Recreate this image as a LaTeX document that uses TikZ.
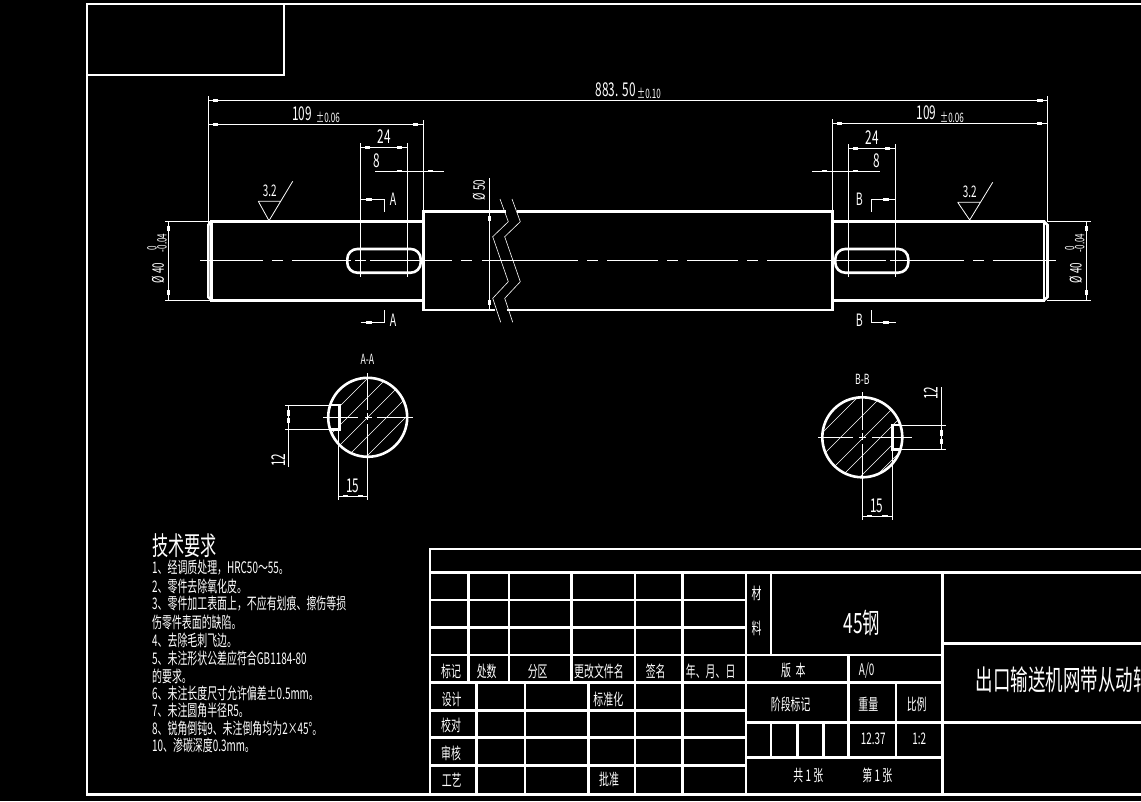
\documentclass[tikz,border=0pt]{standalone}
\usepackage{fontspec}
\usepackage{tikz}
\newfontfamily\cadfont[FakeStretch=0.62]{Noto Sans CJK SC}
\newcommand{\cadsize}[1]{\cadfont\fontsize{#1}{#1}\selectfont}
\tikzset{x=1pt,y=-1pt,
         part/.style={white,line width=2.6pt},
         dimline/.style={white,line width=0.8pt},
         hatchline/.style={white,line width=0.6pt},
         label/.style={text=white,inner sep=0pt,font=\cadsize{19}},
         tol/.style={text=white,inner sep=0pt,font=\cadsize{13}},
         req/.style={text=white,inner sep=0pt,anchor=west,font=\cadsize{16}},
         cell/.style={text=white,inner sep=0pt,font=\cadsize{16}}}
\begin{document}
\begin{tikzpicture}
	  \fill[black] (0,0) rectangle (1141,801);
	  \clip (0,0) rectangle (1141,801);
	  % sheet frame
	  \draw[part] (1141,4) -- (87,4) -- (87,794.5) -- (1141,794.5);
	  \draw[part] (87,75) -- (284,75) -- (284,4);

	  % shaft
	  \draw[part] (423.3,221.3) -- (211.7,221.3) -- (211.7,300.3) -- (423.3,300.3);
	  \draw[part] (211.7,221.3) -- (208.3,225) -- (208.3,297) -- (211.7,300.3);
	  \draw[part] (832.7,221.3) -- (1044,221.3) -- (1044,300.3) -- (832.7,300.3);
	  \draw[part] (1044,221.3) -- (1047.5,225) -- (1047.5,297) -- (1044,300.3);
	  \draw[part] (506,211.7) -- (423.3,211.7) -- (423.3,310) -- (495,310);
	  \draw[part] (516.7,211.7) -- (832.7,211.7) -- (832.7,310) -- (506.7,310);
	  \draw[part,rounded corners=10pt] (347.3,249) rectangle (420.7,272.7);
	  \draw[part,rounded corners=10pt] (835.3,249) rectangle (908.3,272.7);
	  % centre line
	  \foreach \a/\b in {200/263,272/283,292/351,355/366,370/452,461/472,482/578,587/598,607/658,
	      667/678,687/738,747/758,767/886,890/964,973/984,992.7/1056}
	    \draw[dimline] (\a,260.3) -- (\b,260.3);
	  % break lines
	  \foreach \dx in {0,12}
	    \draw[hatchline,xshift=\dx] (500,199) -- (508.3,221.7) -- (492.7,236.7) -- (508.3,281.7)
	      -- (492.7,298.3) -- (500.7,322.3);

	  % dimension lines
	  \draw[dimline] (208.3,96) -- (208.3,223) (1047.7,96) -- (1047.7,222) (208.3,100.3) -- (1047.7,100.3);
	  \draw[dimline] (423.3,120) -- (423.3,211) (208.3,124.3) -- (423.3,124.3);
	  \draw[dimline] (360.3,143) -- (360.3,277) (407.3,143) -- (407.3,277) (360.3,147.3) -- (407.3,147.3);
	  \draw[dimline] (375,171) -- (444,171);
	  \draw[dimline] (832.3,119) -- (832.3,211) (832.3,123.3) -- (1047.7,123.3);
	  \draw[dimline] (848.3,144) -- (848.3,277) (895.3,144) -- (895.3,277) (848.3,148.3) -- (895.3,148.3);
	  \draw[dimline] (812.3,171) -- (879.7,171);
	  \draw[dimline] (489.3,178.3) -- (489.3,310);
	  \draw[dimline] (165,221.3) -- (211,221.3) (165,300.3) -- (211,300.3) (168.3,221.3) -- (168.3,300.3);
	  \draw[dimline] (1047,221.3) -- (1090.7,221.3) (1047,300.3) -- (1090.7,300.3) (1086.3,221.3) -- (1086.3,300.3);
	  % section marks
	  \draw[dimline] (360.7,199.3) -- (384.7,199.3) -- (384.7,211.7);
	  \draw[dimline] (360.7,322.3) -- (384.7,322.3) -- (384.7,310);
	  \draw[dimline] (895.3,199.3) -- (871.7,199.3) -- (871.7,211.7);
	  \draw[dimline] (895.7,322.3) -- (871.7,322.3) -- (871.7,310);
	  % roughness marks
	  \draw[dimline] (258.3,201.3) -- (281,201.3) (258.3,201.3) -- (269,220.7) -- (292.7,181.3);
	  \draw[dimline] (957.7,202.3) -- (980.7,202.3) (957.7,202.3) -- (969.7,220) -- (992.7,182.3);

	  % section A-A
	  \begin{scope}
	    \clip (367.7,417.3) circle (39.5);
	    \foreach \s in {746,765,785,804,823,840}
	      \draw[hatchline] (\s-370,370) -- (\s-465,465);
	    \fill[black] (325,405) rectangle (339.3,429.3);
	  \end{scope}
	  \draw[part] (367.7,417.3) circle (39.5);
	  \draw[part] (331,405) -- (339.3,405) -- (339.3,429.3) -- (331,429.3);
	  \draw[dimline] (323.3,417.3) -- (358,417.3) (365,417.3) -- (372,417.3) (377,417.3) -- (412.7,417.3);
	  \draw[dimline] (367.7,373.3) -- (367.7,410) (367.7,413) -- (367.7,420) (367.7,424) -- (367.7,500);
	  \draw[dimline] (285,405) -- (331,405) (285,429.3) -- (331,429.3) (288.3,405) -- (288.3,467.3);
	  \draw[dimline] (338.3,429.3) -- (338.3,500) (338.3,496) -- (367.7,496);

	  % section B-B
	  \begin{scope}
	    \clip (862.3,437.3) circle (40);
	    \foreach \s in {1255,1278,1301,1318,1337,1352}
	      \draw[hatchline] (\s-390,390) -- (\s-485,485);
	    \fill[black] (892.3,425) rectangle (905,449.3);
	  \end{scope}
	  \draw[part] (862.3,437.3) circle (40);
	  \draw[part] (899.5,425) -- (892.3,425) -- (892.3,449.3) -- (899.5,449.3);
	  \draw[dimline] (818.3,437.3) -- (853,437.3) (859,437.3) -- (866,437.3) (872,437.3) -- (911.7,437.3);
	  \draw[dimline] (862.3,392.3) -- (862.3,430) (862.3,433) -- (862.3,440) (862.3,444) -- (862.3,520);
	  \draw[dimline] (900,425) -- (945.7,425) (900,449.3) -- (945.7,449.3) (941.3,387.3) -- (941.3,449.3);
	  \draw[dimline] (892.3,449.3) -- (892.3,520) (862.3,516) -- (892.3,516);

	  % dimension blocks
	  \foreach \bx/\by in {215.5/100.3,1040/100.3,215.5/124.3,415.5/124.3,367.5/147.3,399.5/147.3,
	      399.5/171,430.5/171,369/199.3,369/322.3,839.5/123.3,1039.5/123.3,855.5/148.3,887.5/148.3,
	      824.5/171,855.5/171,886/199.3,886/322.3,345.5/496,360.5/496,869.5/516,885/516}
	    \fill[white] (\bx-2.7,\by-1.3) rectangle (\bx+2.7,\by+1.3);
	  \foreach \bx/\by in {489.3/218.5,489.3/302.5,168.3/228.5,168.3/292.5,1086.3/228.5,1086.3/292.5,
	      288.3/413,288.3/420.5,941.3/433,941.3/441.5}
	    \fill[white] (\bx-1.3,\by-2.7) rectangle (\bx+1.3,\by+2.7);

	  % dimension texts
	  \node[label,anchor=west] (overall) at (595.7,90) {883.\kern4pt 50};
	  \node[tol,anchor=west] (overalltol) at (637,93) {±0.10};
	  \node[label] (leftlen) at (302,114) {109};
	  \node[tol,anchor=west] (leftlentol) at (316,117) {±0.06};
	  \node[label] (rightlen) at (926.5,113) {109};
	  \node[tol,anchor=west] (rightlentol) at (940,117) {±0.06};
	  \node[label] (leftkey) at (384,136.7) {24};
	  \node[label] (rightkey) at (872.3,137.3) {24};
	  \node[label] (leftoff) at (377,160.7) {8};
	  \node[label] (rightoff) at (876.3,160.7) {8};
	  \node[label,font=\cadsize{17}] (markaup) at (393,199) {A};
	  \node[label,font=\cadsize{17}] (markadn) at (393,320.7) {A};
	  \node[label,font=\cadsize{17}] (markbup) at (859.3,199) {B};
	  \node[label,font=\cadsize{17}] (markbdn) at (859.3,320) {B};
	  \node[label,font=\cadsize{16}] (roughl) at (269.7,190.7) {3.2};
	  \node[label,font=\cadsize{16}] (roughr) at (969.7,191.7) {3.2};
	  \node[label,rotate=90,font=\cadsize{16}] (middia) at (479,190) {Ø 50};
	  \foreach \n/\x in {l/158,r/1075.7} {
	    \node[label,rotate=90,font=\cadsize{16}] (dia\n) at (\x,273) {Ø 40};
	    \node[tol,rotate=90] (upper\n) at (\x-6,248) {0};
	    \node[tol,rotate=90] (lower\n) at (\x+4,243) {-0.04};
	  }
	  \node[label,font=\cadsize{14}] (titlea) at (367.3,359) {A-A};
	  \node[label,font=\cadsize{14}] (titleb) at (862.3,379) {B-B};
	  \node[label,rotate=90] (keya) at (278.3,460) {12};
	  \node[label] (depa) at (352.7,485.7) {15};
	  \node[label,rotate=90] (keyb) at (930.7,393.3) {12};
	  \node[label] (depb) at (876.7,505.7) {15};

	  % technical requirements
	  \node[req,font=\cadsize{26}] (reqtitle) at (152,545.7) {技术要求};
	  \foreach \n/\y/\t in {1/567.7/{1、经调质处理，HRC50～55。},
	      2/586/{2、零件去除氧化皮。},
	      3/604/{3、零件加工表面上，不应有划痕、擦伤等损},
	      4/622/{伤零件表面的缺陷。},
	      5/640/{4、去除毛刺飞边。},
	      6/658/{5、未注形状公差应符合GB1184-80},
	      7/676/{的要求。},
	      8/693/{6、未注长度尺寸允许偏差±0.5mm。},
	      9/710/{7、未注圆角半径R5。},
	      10/728/{8、锐角倒钝9、未注倒角均为2×45°。},
	      11/745.7/{10、渗碳深度0.3mm。}}
	    \node[req] (req\n) at (152,\y) {\t};

	  % title block
	  \draw[part] (1141,549) -- (430,549) -- (430,794.5);
	  \draw[part] (430,572.7) -- (1141,572.7);
	  \foreach \y in {600,627.7,655,682.7,710.7,737.7,765.7}
	    \draw[part] (430,\y) -- (746,\y);
	  \foreach \x in {468.3,509,571.7,635,682.7}
	    \draw[part] (\x,572.7) -- (\x,682.7);
	  \foreach \x in {476.7,525,588.3,635,682.7}
	    \draw[part] (\x,682.7) -- (\x,794.5);
	  \draw[part] (746,572.7) -- (746,794.5) (942.7,572.7) -- (942.7,794.5);
	  \foreach \y in {655,682.7,722.7,757.7}
	    \draw[part] (746,\y) -- (942.7,\y);
	  \draw[part] (771,572.7) -- (771,655) (771,722.7) -- (771,757.7);
	  \draw[part] (797.3,722.7) -- (797.3,757.7) (823.3,722.7) -- (823.3,757.7);
	  \draw[part] (848.3,655) -- (848.3,757.7) (896,682.7) -- (896,757.7);
	  \draw[part] (942.7,643.7) -- (1141,643.7) (942.7,722.7) -- (1141,722.7);

	  \foreach \n/\x/\y/\t in {a/451/671.7/标记,b/486.7/671.7/处数,c/537.7/671.7/分区,d/599/671.7/更改文件名,
	      e/655.7/671.7/签名,f/710.7/671.7/年、月、日,g/451.7/699.3/设计,h/451/725.3/校对,i/451/753.3/审核,
	      j/451.7/780/工艺,k/608.3/699.3/标准化,l/609/779.3/批准,m/756.7/593.3/材,n/756.7/628.3/料,
	      o/793.3/670.7/{版\ \ 本},q/790.7/704/阶段标记,r/868.3/704/重量,s/916.7/704/比例,
	      t/873.3/739/12.37,u/919.3/739/1:2,v/808.3/775.3/{共 1 张},w/877.3/775.3/{第 1 张}}
	    \node[cell] (cell\n) at (\x,\y) {\t};
	  \node[cell] (cellp) at (866.7,670.7) {A/0};
	  \node[cell,font=\cadsize{28}] (material) at (861.7,623.3) {45钢};
	  \node[cell,anchor=west,font=\cadsize{28.2}] (partname) at (975.7,680) {出口输送机网带从动轴};
\end{tikzpicture}
\end{document}
